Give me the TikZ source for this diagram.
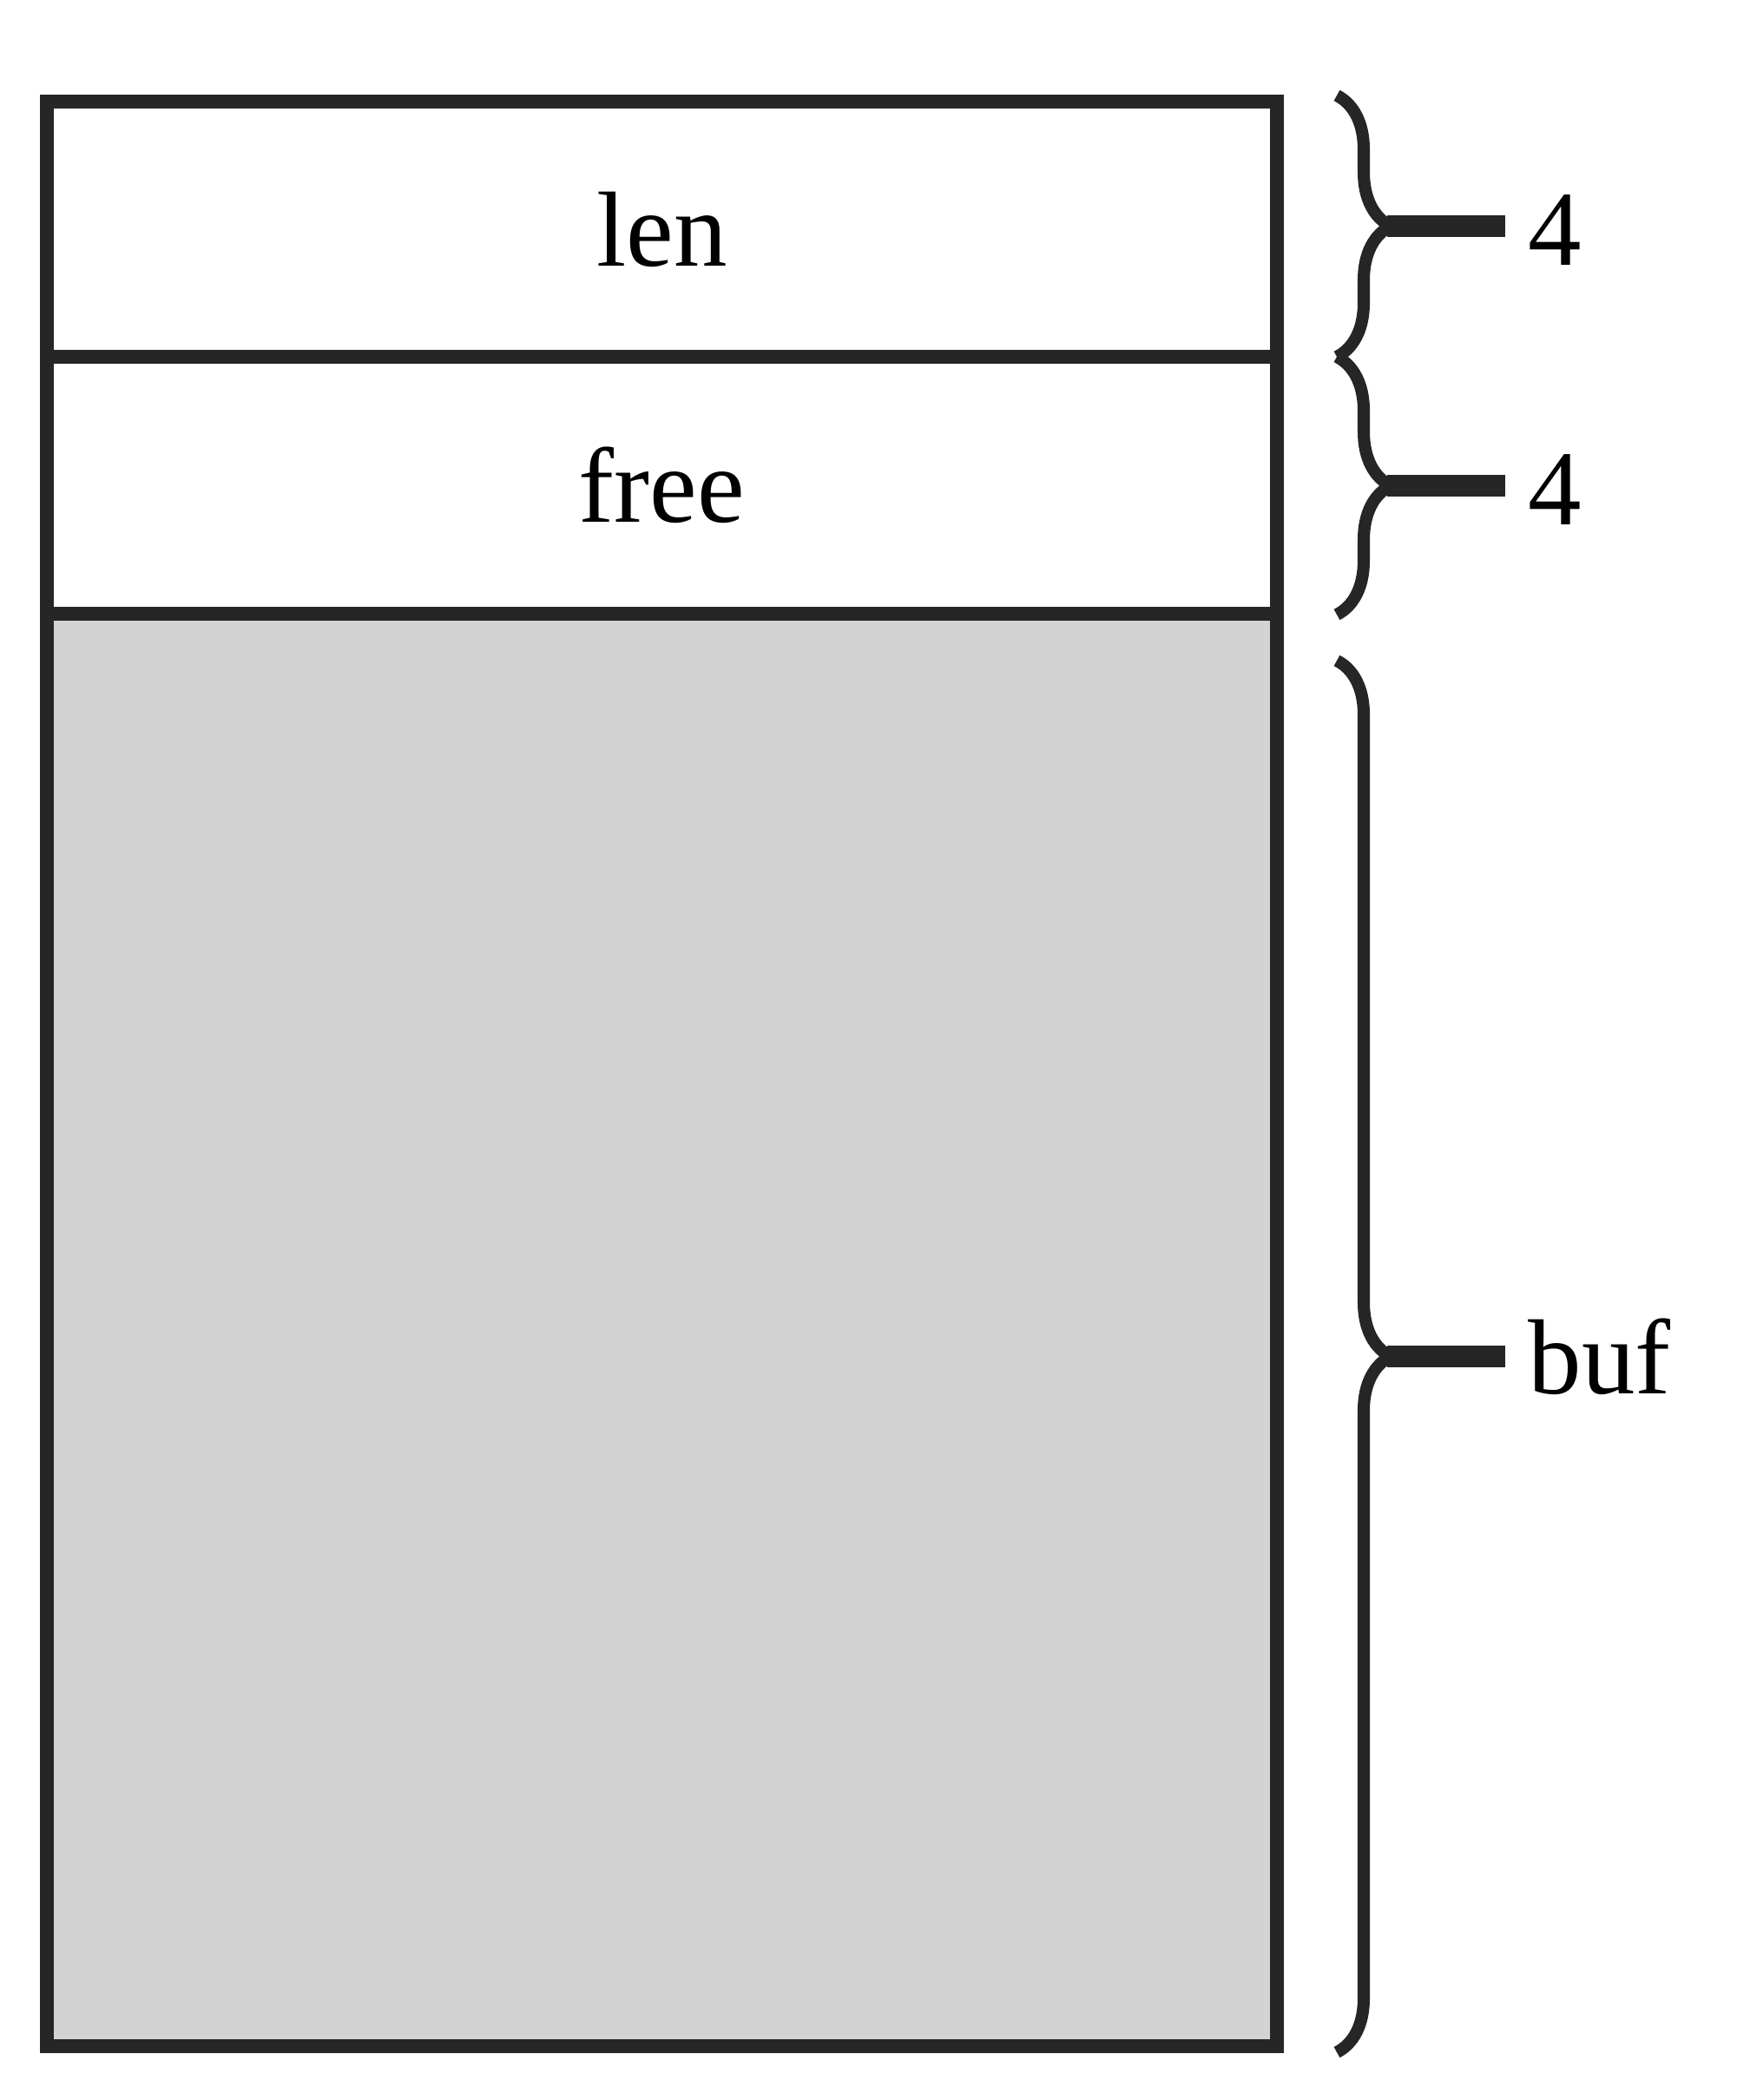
\documentclass[tikz,border=0pt]{standalone}
\usepackage{fontspec}
\setmainfont{Liberation Serif}
\usepackage{tikz}
\usetikzlibrary{calc}
\usetikzlibrary{positioning}
\usetikzlibrary{decorations.pathreplacing}
\definecolor{bufgray}{RGB}{211,211,211}
\definecolor{edgecol}{RGB}{38,38,38}
\newcommand{\cellw}{14.17cm}
\newcommand{\lenh}{2.94cm}
\newcommand{\freeh}{2.96cm}
\newcommand{\bufh}{16.5cm}
\newcommand{\bracegap}{0.69}
\newcommand{\barlen}{1.62}
\tikzset{
  cell/.style={draw=edgecol, line width=4.8pt, rectangle, outer sep=0pt,
    inner sep=0pt, minimum width=\cellw},
  bracepath/.style={draw=edgecol, line width=4pt, decorate,
    decoration={brace, amplitude=0.62cm}},
  tipbar/.style={draw=edgecol, line width=7pt, shorten >=0.26cm},
  sizelabel/.style={anchor=west, inner sep=0pt},
  txt/.style={font=\fontsize{35}{42}\selectfont}
}
\begin{document}
\begin{tikzpicture}[txt]
    \useasboundingbox (0,0) rectangle (20,24.19);

    % header fields
    \node[cell, minimum height=\lenh, anchor=north west] (len) at (0.54,23.02) {len};
    \node[cell, minimum height=\freeh, below=0pt of len] (free) {free};
    % buf part
    \node[cell, fill=bufgray, minimum height=\bufh, below=0pt of free] (buf) {};

    % braces
    \coordinate (b1s) at ($(len.north east)+(\bracegap,0.07)$);
    \coordinate (b1e) at ($(len.south east)+(\bracegap,0)$);
    \coordinate (b2s) at ($(free.north east)+(\bracegap,0)$);
    \coordinate (b2e) at ($(free.south east)+(\bracegap,-0.01)$);
    \coordinate (b3s) at ($(buf.north east)+(\bracegap,-0.54)$);
    \coordinate (b3e) at ($(buf.south east)+(\bracegap,-0.07)$);
    \draw[bracepath] (b1s) -- (b1e);
    \draw[bracepath] (b2s) -- (b2e);
    \draw[bracepath] (b3s) -- (b3e);

    % tips and sizes
    \coordinate (t1) at ($(b1s)!0.5!(b1e)+(0.58,0)$);
    \coordinate (t2) at ($(b2s)!0.5!(b2e)+(0.58,0)$);
    \coordinate (t3) at ($(b3s)!0.5!(b3e)+(0.58,0)$);
    \node[sizelabel] (szlen) at ($(t1)+(\barlen,-0.05)$) {4};
    \node[sizelabel] (szfree) at ($(t2)+(\barlen,-0.05)$) {4};
    \node[sizelabel] (szbuf) at ($(t3)+(\barlen,0)$) {buf};
    \draw[tipbar] (t1) -- (t1 -| szlen.west);
    \draw[tipbar] (t2) -- (t2 -| szfree.west);
    \draw[tipbar] (t3) -- (t3 -| szbuf.west);
\end{tikzpicture}
\end{document}
